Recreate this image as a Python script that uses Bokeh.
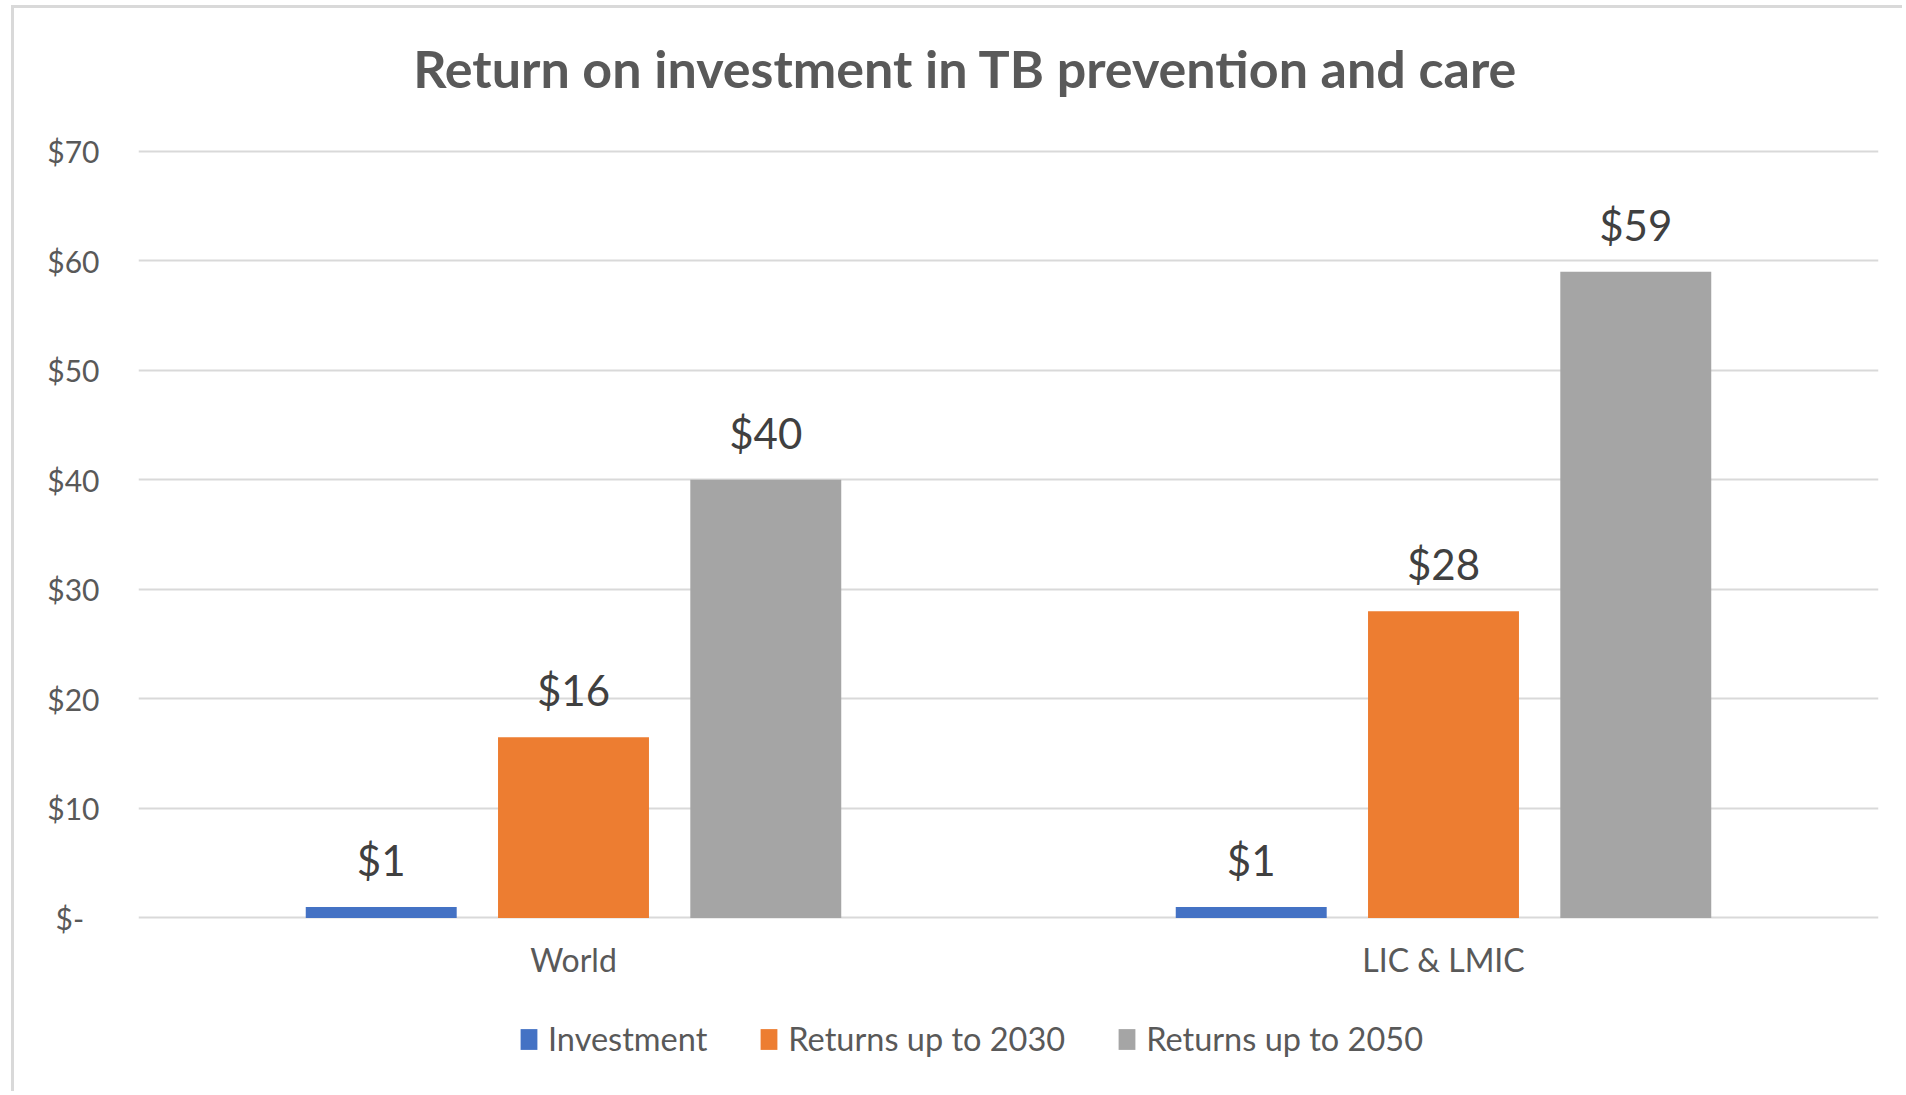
from bokeh.plotting import figure
from bokeh.models import (ColumnDataSource, FactorRange, Range1d, FixedTicker,
                          LabelSet, Label, Legend, LegendItem)
from bokeh.transform import dodge
from bokeh.core.properties import value
from bokeh.embed import file_html
from bokeh.resources import INLINE

# ---- data ----
categories = ["World", "LIC & LMIC"]
series_names = ["Investment", "Returns up to 2030", "Returns up to 2050"]
investment = [1, 1]
returns_2030 = [16.5, 28]
returns_2050 = [40, 59]
investment_labels = ["$1", "$1"]
returns_2030_labels = ["$16", "$28"]
returns_2050_labels = ["$40", "$59"]
y_ticks = [0, 10, 20, 30, 40, 50, 60, 70]
y_tick_labels = ["$-\u00a0\u00a0", "$10", "$20", "$30", "$40", "$50", "$60", "$70"]
title_text = "Return on investment in TB prevention and care"

colors = ["#4472C4", "#ED7D31", "#A5A5A5"]
offsets = [-0.221, 0.0, 0.221]
bar_width = 0.1735
FONT = "Lato"

p = figure(
    x_range=FactorRange(factors=categories, range_padding=0),
    y_range=Range1d(-16.12, 83.04),
    width=1891, height=1086,
    output_backend="svg", toolbar_location=None,
    min_border_left=124, min_border_right=27,
    min_border_top=0, min_border_bottom=0,
)
p.styles = {"margin-left": "11px", "margin-top": "5px",
            "border-left": "3px solid #d9d9d9",
            "border-top": "3px solid #d9d9d9"}
p.outline_line_color = None
p.background_fill_color = "white"
p.border_fill_color = "white"

# chart title, placed in the (extended) plot area above the $70 gridline
p.add_layout(Label(x=0.9506, y=77.62, text=title_text, text_align="center",
                   text_baseline="alphabetic", text_font=FONT,
                   text_font_size="52px", text_font_style="bold",
                   text_color="#595959"))

series_values = [investment, returns_2030, returns_2050]
series_labels = [investment_labels, returns_2030_labels, returns_2050_labels]
items = []
for name, vals, labs, col, off in zip(series_names, series_values, series_labels, colors, offsets):
    src = ColumnDataSource(dict(cat=categories, value=vals, label=labs))
    r = p.vbar(x=dodge("cat", off, range=p.x_range), top="value", width=bar_width,
               source=src, fill_color=col, line_color=None)
    items.append(LegendItem(label=name, renderers=[r]))
    p.add_layout(LabelSet(x=dodge("cat", off, range=p.x_range), y="value", text="label",
                          source=src, y_offset=31, text_align="center",
                          text_baseline="alphabetic", text_font=value(FONT),
                          text_font_size="42px", text_color="#404040"))

# axes
p.yaxis.ticker = FixedTicker(ticks=y_ticks)
p.yaxis.major_label_overrides = {t: l for t, l in zip(y_ticks, y_tick_labels)}
p.yaxis.axis_line_color = None
p.yaxis.major_tick_line_color = None
p.yaxis.minor_tick_line_color = None
p.yaxis.major_label_standoff = 33
p.yaxis.major_label_text_font = FONT
p.yaxis.major_label_text_font_size = "30px"
p.yaxis.major_label_text_color = "#595959"

p.xaxis.fixed_location = 0
p.xaxis.axis_line_color = None
p.xaxis.major_tick_line_color = None
p.xaxis.major_label_standoff = 16
p.xaxis.major_label_text_font = FONT
p.xaxis.major_label_text_font_size = "32px"
p.xaxis.major_label_text_color = "#595959"

p.xgrid.grid_line_color = None
p.ygrid.grid_line_color = "#d9d9d9"
p.ygrid.grid_line_width = 2

legend = Legend(items=items, orientation="horizontal", location=(380, 36),
                glyph_width=21, glyph_height=26, label_standoff=9, spacing=51,
                padding=0, margin=0, border_line_color=None,
                background_fill_alpha=0, label_text_font=FONT,
                label_text_font_size="32.5px", label_text_color="#595959")
p.add_layout(legend)

open("out.html", "w").write(file_html(p, INLINE))
